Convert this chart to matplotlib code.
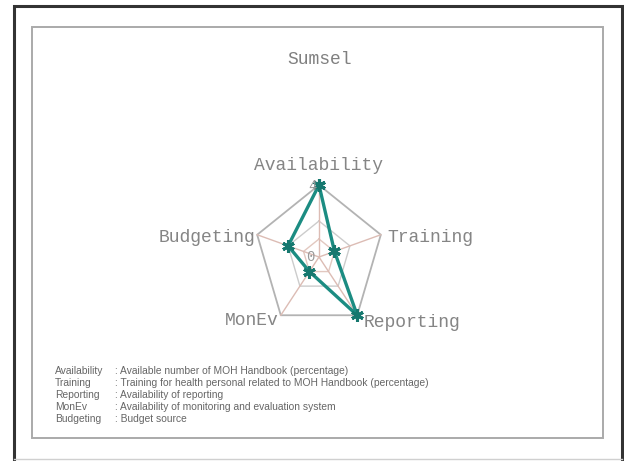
import numpy as np
import matplotlib.pyplot as plt
from matplotlib.patches import Rectangle

# data
title = 'Sumsel'
categories = ['Availability', 'Training', 'Reporting', 'MonEv', 'Budgeting']
values = [4, 1, 4, 1, 2]
scale_max = 4
rings = [1, 2, 4]
tick_labels = ['0', '4']

notes = [
    ('Availability', 'Available number of MOH Handbook (percentage)'),
    ('Training', 'Training for health personal related to MOH Handbook (percentage)'),
    ('Reporting', 'Availability of reporting'),
    ('MonEv', 'Availability of monitoring and evaluation system'),
    ('Budgeting', 'Budget source'),
]

W, H = 624, 461
fig = plt.figure(figsize=(W / 100, H / 100), dpi=100)
fig.patch.set_facecolor('white')

# frames
fig.add_artist(Rectangle((14 / W, -5 / H), 608 / W, (H - 6 + 5) / H, transform=fig.transFigure,
                         fill=False, edgecolor='#333333', linewidth=2.2))
fig.add_artist(plt.Line2D([14 / W, 622 / W], [(H - 459) / H] * 2, transform=fig.transFigure,
                          color='#d0d0d0', lw=1))
fig.add_artist(Rectangle((32 / W, (H - 438) / H), 571 / W, 411 / H, transform=fig.transFigure,
                         fill=False, edgecolor='#aaaaaa', linewidth=1.4))

mono = ['Liberation Mono', 'DejaVu Sans Mono']
fig.text(320 / W, 1 - 60 / H, title, ha='center', va='center', fontsize=13,
         family=mono, color='#808080')

# radar axes, stretched vertically like the original
cx, cy = 319, 257
rx, ry = 65, 72
ax_w, ax_h = 200, 200
ax = fig.add_axes([(cx - ax_w / 2) / W, (H - cy - ax_h / 2) / H, ax_w / W, ax_h / H])
ax.set_xlim(-scale_max * ax_w / 2 / rx, scale_max * ax_w / 2 / rx)
ax.set_ylim(-scale_max * ax_h / 2 / ry, scale_max * ax_h / 2 / ry)
ax.axis('off')

n = len(categories)
angles = np.deg2rad(90 - 72 * np.arange(n))
cos_a, sin_a = np.cos(angles), np.sin(angles)

ring_colors = {1: '#e2c8c0', 2: '#cccccc', 4: '#b3b3b3'}
for r in rings:
    xs = np.append(r * cos_a, r * cos_a[0])
    ys = np.append(r * sin_a, r * sin_a[0])
    ax.plot(xs, ys, color=ring_colors[r], lw=1.3 if r == scale_max else 1.0, zorder=1)

for c, s in zip(cos_a, sin_a):
    ax.plot([0, scale_max * c], [0, scale_max * s], color='#dcbcb4', lw=1.0, zorder=1)

v = np.array(values, dtype=float)
xs = np.append(v * cos_a, v[0] * cos_a[0])
ys = np.append(v * sin_a, v[0] * sin_a[0])
ax.plot(xs, ys, color='#1b8c82', lw=2.4, zorder=3,
        marker=(6, 2, 0), markersize=9, markeredgewidth=2.2, markeredgecolor='#16786f')

# axis labels
offsets = {
    'Availability': ((0, 14), 'center', 'center'),
    'Training': ((4.5, -2), 'left', 'center'),
    'Reporting': ((4.5, -5.5), 'left', 'center'),
    'MonEv': ((-1.5, -4), 'right', 'center'),
    'Budgeting': ((-1.5, -2), 'right', 'center'),
}
for name, c, s in zip(categories, cos_a, sin_a):
    off, ha, va = offsets[name]
    ax.annotate(name, (scale_max * c, scale_max * s), xytext=off, textcoords='offset points',
                ha=ha, va=va, fontsize=13, family=mono, color='#858585',
                annotation_clip=False)

# scale labels
ax.annotate(tick_labels[1], (0, scale_max), xytext=(-5, -1), textcoords='offset points',
            ha='center', va='center', fontsize=10, family=mono, color='#999999')
ax.annotate(tick_labels[0], (0, 0), xytext=(-6, 0), textcoords='offset points',
            ha='center', va='center', fontsize=10, family=mono, color='#999999')

# notes at the bottom
sans = ['Liberation Sans', 'DejaVu Sans']
for i, (k, desc) in enumerate(notes):
    y = 1 - (370.5 + i * 12) / H
    fig.text(55 / W, y, k, ha='left', va='center', fontsize=7.4, family=sans, color='#666666')
    fig.text(115 / W, y, ': ' + desc, ha='left', va='center', fontsize=7.4, family=sans,
             color='#666666')

fig.savefig('out.png', dpi=100)
